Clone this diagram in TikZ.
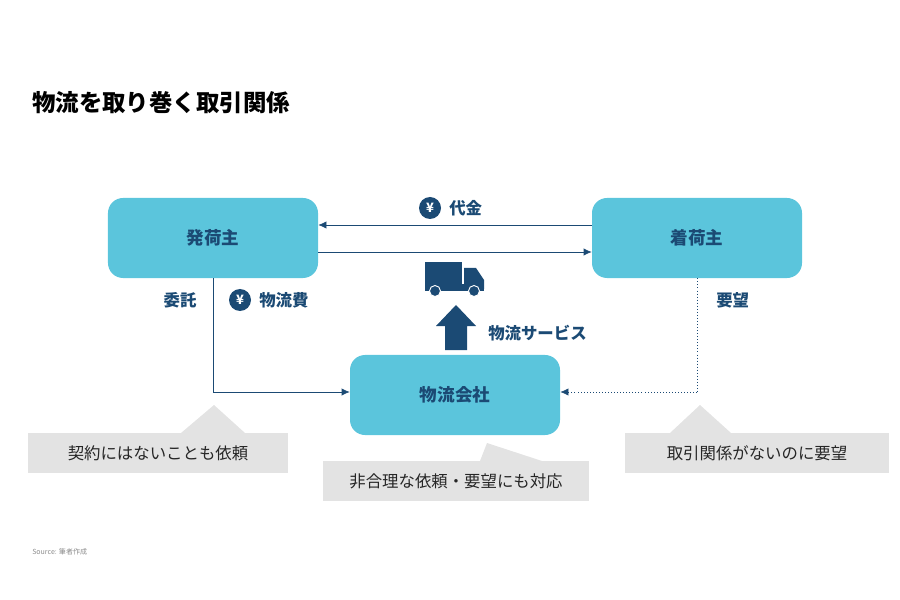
\documentclass[tikz,border=0pt]{standalone}
\usepackage{fontspec}
\setmainfont{Noto Sans CJK JP}
\usetikzlibrary{arrows.meta,positioning}
\definecolor{boxblue}{HTML}{5BC5DC}
\definecolor{navy}{HTML}{1B4A74}
\definecolor{callgray}{HTML}{E3E3E3}
\newcommand{\yen}[1]{\node[circle,fill=navy,text=white,inner sep=0pt,minimum size=0.66cm,font=\bfseries\fontsize{11}{11}\selectfont] at (#1) {¥};}

\begin{document}
\begin{tikzpicture}[x=0.03cm,y=-0.03cm,>={Latex[length=2.4mm,width=2.2mm]},semithick]
  \tikzstyle{party}=[rectangle,rounded corners=0.45cm,fill=boxblue,text=navy,
                     minimum width=6.3cm,minimum height=2.4cm,font=\bfseries\fontsize{15}{15}\selectfont]
  \tikzstyle{lbl}=[text=navy,font=\bfseries\fontsize{14}{14}\selectfont]
  \tikzstyle{note}=[fill=callgray,text=black!85,font=\fontsize{14}{14}\selectfont,minimum height=1.2cm]
  \tikzstyle{flow}=[draw=navy,->]

  \useasboundingbox (0,0) rectangle (900,600);

  \node[anchor=west,font=\bfseries\fontsize{20}{20}\selectfont] (title) at (28,103) {物流を取り巻く取引関係};

  \node[party] (S) at (213,238) {発荷主};
  \node[party] (R) at (697,238) {着荷主};
  \node[party] (L) at (455,395) {物流会社};

  % payment and goods
  \draw[flow] (R.west |- 0,225) -- (S.east |- 0,225);
  \draw[flow] (S.east |- 0,252) -- (R.west |- 0,252);
  \yen{430,208}
  \node[lbl,anchor=west] (pay) at (445,208) {代金};

  % truck
  \fill[navy] (425,262) rectangle (462,287);
  \fill[navy] (464,268) -- (476,268) -- (484,280) -- (484,289) -- (464,289) -- cycle;
  \fill[navy] (425,284) rectangle (484,291);
  \foreach \x in {435,474} \filldraw[navy,fill=navy,draw=white,thick] (\x,291) circle (5.5);

  % service arrow
  \fill[navy] (445,350) -- (445,326) -- (436,326) -- (456,305) -- (476,326) -- (467,326) -- (467,350) -- cycle;
  \node[lbl,anchor=west] (svc) at (484,333) {物流サービス};

  % contract
  \coordinate (c1) at (213,392);
  \draw[draw=navy] (S.south) -- (c1);
  \draw[flow] (c1) -- (L.west |- c1);
  \node[lbl] (itaku) at (180,300) {委託};
  \yen{240,300}
  \node[lbl,anchor=west] (fee) at (255,300) {物流費};

  % demand
  \coordinate (c2) at (697,392);
  \draw[draw=navy,dotted] (R.south) -- (c2);
  \draw[flow,dotted] (c2) -- (L.east |- c2);
  \node[lbl,anchor=west] (yobo) at (712,300) {要望};

  % callouts
  \fill[callgray] (181,433) -- (214,405) -- (245,433) -- cycle;
  \node[note,minimum width=7.8cm] (n1) at (158,453) {契約にはないことも依頼};
  \fill[callgray] (480,461) -- (487,443) -- (542,461) -- cycle;
  \node[note,minimum width=7.95cm] (n2) at (456,481) {非合理な依頼・要望にも対応};
  \fill[callgray] (670,433) -- (700,405) -- (731,433) -- cycle;
  \node[note,minimum width=7.9cm] (n3) at (757,453) {取引関係がないのに要望};

  \node[anchor=west,text=black!45,font=\fontsize{6}{6}\selectfont] (src) at (28,552) {Source: 筆者作成};
\end{tikzpicture}
\end{document}
